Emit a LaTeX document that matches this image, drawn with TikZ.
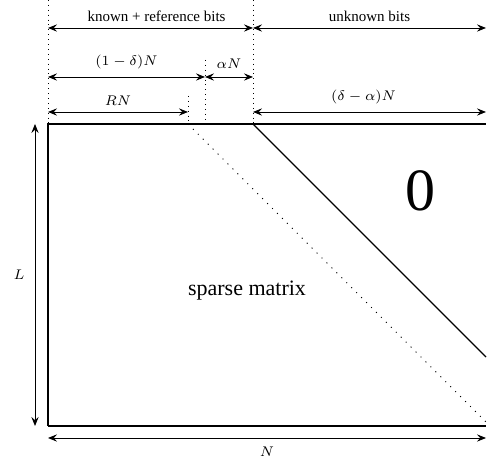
\documentclass[tikz,border=0pt]{standalone}
\usepackage{fontspec}
\setmainfont{Liberation Serif}
\usepackage{tikz}
\usetikzlibrary{arrows.meta,positioning}

\begin{document}
\begin{tikzpicture}[
    x=0.5pt, y=-0.5pt,
    every node/.style={font=\fontsize{7.5}{9}\selectfont, inner sep=1pt},
    edge/.style={line width=0.65pt},
    guide/.style={line width=0.45pt, dotted},
    sparsedots/.style={line width=0.5pt, dash pattern=on 0.5pt off 3pt},
    diagline/.style={line width=0.55pt},
    dimline/.style={{Stealth[length=4.5pt, width=3.6pt, inset=1.6pt]}-{Stealth[length=4.5pt, width=3.6pt, inset=1.6pt]}, line width=0.45pt}
]
\useasboundingbox (0,0) rectangle (487,458);

% matrix corners
\coordinate (tl) at (48,124);
\coordinate (bl) at (48,426);
\coordinate (br) at (486,426);
\coordinate (tr) at (486,124);
\coordinate (rn) at (188,124);
\coordinate (dn) at (205,124);
\coordinate (kn) at (253,124);
\coordinate (solidend) at (486,357);
\coordinate (dotend) at (486,422);

% guide tops
\coordinate (tltop) at (48,0);
\coordinate (kntop) at (253,0);
\coordinate (dntop) at (205,60);
\coordinate (rntop) at (188,96);

% dimension ends
\coordinate (a1) at (48,28);   \coordinate (a2) at (253,28);  \coordinate (a3) at (486,28);
\coordinate (b1) at (48,77);   \coordinate (b2) at (205,77);  \coordinate (b3) at (253,77);
\coordinate (c1) at (48,112);  \coordinate (c2) at (188,112);
\coordinate (c3) at (253,112); \coordinate (c4) at (486,112);
\coordinate (v1) at (35,124);  \coordinate (v2) at (35,426);
\coordinate (h1) at (48,438);  \coordinate (h2) at (486,438);

\draw[edge] (bl) -- (tl) -- (tr);
\draw[edge] (bl) -- (br);
\draw[diagline] (kn) -- (solidend);
\draw[sparsedots] (rn) -- (dotend);

\draw[guide] (tltop) -- (tl);
\draw[guide] (kntop) -- (kn);
\draw[guide] (dntop) -- (dn);
\draw[guide] (rntop) -- (rn);

\draw[dimline] (a1) -- node[above=2pt, xshift=3pt] (lknown) {known + reference bits} (a2);
\draw[dimline] (a2) -- node[above=2pt] (lunknown) {unknown bits} (a3);
\draw[dimline] (b1) -- node[above=3pt] (lonemd) {$(1-\delta)N$} (b2);
\draw[dimline] (b2) -- node[above=3pt] (lalpha) {$\alpha N$} (b3);
\draw[dimline] (c1) -- node[above=2pt] (lrn) {$RN$} (c2);
\draw[dimline] (c3) -- node[above=3pt, xshift=-3pt] (ldma) {$(\delta-\alpha)N$} (c4);
\draw[dimline] (v1) -- node[left=4pt] (ll) {$L$} (v2);
\draw[dimline] (h1) -- node[below=3pt] (ln) {$N$} (h2);

\node[font=\fontsize{11}{13}\selectfont] (sparse) at (247,291) {sparse matrix};
\node[font=\fontsize{30}{32}\selectfont] (zero) at (420,191) {0};
\end{tikzpicture}
\end{document}
